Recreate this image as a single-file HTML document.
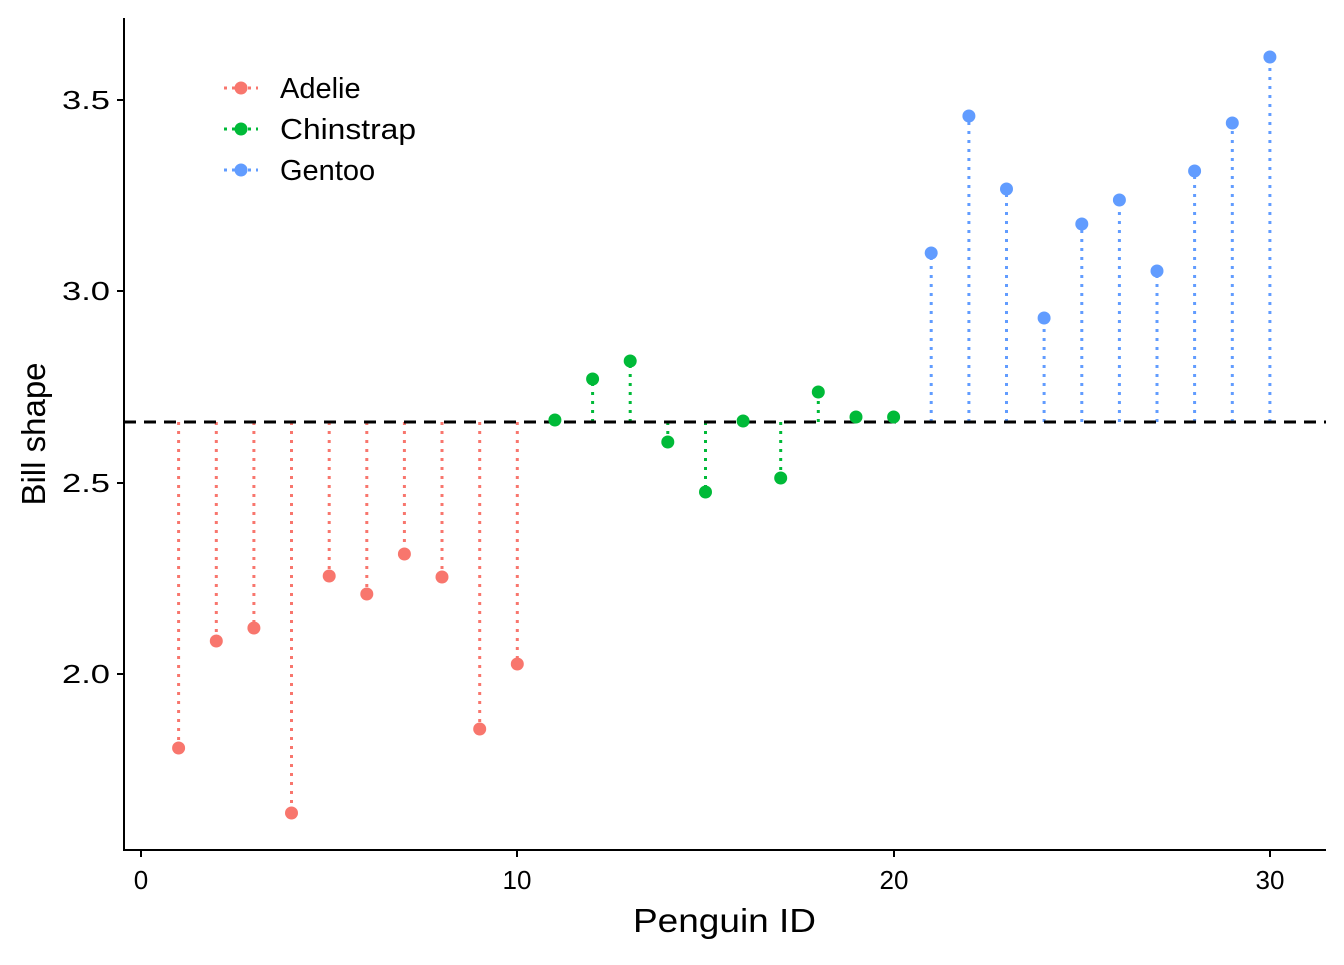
<!DOCTYPE html>
<html><head><meta charset="utf-8"><style>
html,body{margin:0;padding:0;background:#fff}
svg text{font-family:"Liberation Sans",Arial,sans-serif}
</style></head><body>
<svg width="1344" height="960" viewBox="0 0 1344 960" xmlns="http://www.w3.org/2000/svg">
<rect width="1344" height="960" fill="#fff"/>
<g stroke-width="3" stroke-dasharray="3,6" fill="none">
<g stroke="#F8766D">
<line x1="178.6" y1="422" x2="178.6" y2="748"/><line x1="216.3" y1="422" x2="216.3" y2="641"/>
<line x1="253.9" y1="422" x2="253.9" y2="628"/><line x1="291.5" y1="422" x2="291.5" y2="813"/>
<line x1="329.2" y1="422" x2="329.2" y2="576"/><line x1="366.8" y1="422" x2="366.8" y2="594"/>
<line x1="404.4" y1="422" x2="404.4" y2="554"/><line x1="442.0" y1="422" x2="442.0" y2="577"/>
<line x1="479.7" y1="422" x2="479.7" y2="729"/><line x1="517.3" y1="422" x2="517.3" y2="664"/>
</g>
<g stroke="#00BA38">
<line x1="592.6" y1="422" x2="592.6" y2="379"/><line x1="630.2" y1="422" x2="630.2" y2="361"/>
<line x1="667.8" y1="422" x2="667.8" y2="442"/><line x1="705.5" y1="422" x2="705.5" y2="492"/>
<line x1="780.7" y1="422" x2="780.7" y2="478"/><line x1="818.3" y1="422" x2="818.3" y2="392"/>
</g>
<g stroke="#619CFF">
<line x1="931.2" y1="422" x2="931.2" y2="253"/><line x1="968.9" y1="422" x2="968.9" y2="116"/>
<line x1="1006.5" y1="422" x2="1006.5" y2="189"/><line x1="1044.1" y1="422" x2="1044.1" y2="318"/>
<line x1="1081.8" y1="422" x2="1081.8" y2="224"/><line x1="1119.4" y1="422" x2="1119.4" y2="200"/>
<line x1="1157.0" y1="422" x2="1157.0" y2="271"/><line x1="1194.6" y1="422" x2="1194.6" y2="171"/>
<line x1="1232.3" y1="422" x2="1232.3" y2="123"/><line x1="1269.9" y1="422" x2="1269.9" y2="57"/>
</g>
</g>
<line x1="124" y1="422" x2="1326" y2="422" stroke="#000" stroke-width="3" stroke-dasharray="12,8"/>
<g fill="#F8766D">
<circle cx="178.6" cy="748" r="6.5"/><circle cx="216.3" cy="641" r="6.5"/><circle cx="253.9" cy="628" r="6.5"/>
<circle cx="291.5" cy="813" r="6.5"/><circle cx="329.2" cy="576" r="6.5"/><circle cx="366.8" cy="594" r="6.5"/>
<circle cx="404.4" cy="554" r="6.5"/><circle cx="442.0" cy="577" r="6.5"/><circle cx="479.7" cy="729" r="6.5"/>
<circle cx="517.3" cy="664" r="6.5"/>
</g>
<g fill="#00BA38">
<circle cx="554.9" cy="420" r="6.5"/><circle cx="592.6" cy="379" r="6.5"/><circle cx="630.2" cy="361" r="6.5"/>
<circle cx="667.8" cy="442" r="6.5"/><circle cx="705.5" cy="492" r="6.5"/><circle cx="743.1" cy="421" r="6.5"/>
<circle cx="780.7" cy="478" r="6.5"/><circle cx="818.3" cy="392" r="6.5"/><circle cx="856.0" cy="417" r="6.5"/>
<circle cx="893.6" cy="417" r="6.5"/>
</g>
<g fill="#619CFF">
<circle cx="931.2" cy="253" r="6.5"/><circle cx="968.9" cy="116" r="6.5"/><circle cx="1006.5" cy="189" r="6.5"/>
<circle cx="1044.1" cy="318" r="6.5"/><circle cx="1081.8" cy="224" r="6.5"/><circle cx="1119.4" cy="200" r="6.5"/>
<circle cx="1157.0" cy="271" r="6.5"/><circle cx="1194.6" cy="171" r="6.5"/><circle cx="1232.3" cy="123" r="6.5"/>
<circle cx="1269.9" cy="57" r="6.5"/>
</g>
<line x1="124" y1="18" x2="124" y2="851" stroke="#000" stroke-width="2"/>
<line x1="123" y1="850" x2="1326" y2="850" stroke="#000" stroke-width="2"/>
<g stroke="#000" stroke-width="2">
<line x1="117" y1="100" x2="124" y2="100"/><line x1="117" y1="291" x2="124" y2="291"/>
<line x1="117" y1="483" x2="124" y2="483"/><line x1="117" y1="674" x2="124" y2="674"/>
<line x1="141" y1="850" x2="141" y2="857"/><line x1="517" y1="850" x2="517" y2="857"/>
<line x1="894" y1="850" x2="894" y2="857"/><line x1="1270" y1="850" x2="1270" y2="857"/>
</g>
<g font-size="26" fill="#000">
<text x="62" y="109" textLength="48" lengthAdjust="spacingAndGlyphs">3.5</text>
<text x="62" y="300" textLength="48" lengthAdjust="spacingAndGlyphs">3.0</text>
<text x="62" y="492" textLength="48" lengthAdjust="spacingAndGlyphs">2.5</text>
<text x="62" y="683" textLength="48" lengthAdjust="spacingAndGlyphs">2.0</text>
</g>
<g font-size="26" fill="#000" text-anchor="middle">
<text x="141" y="889">0</text><text x="517" y="889">10</text>
<text x="894" y="889">20</text><text x="1270" y="889">30</text>
</g>
<text x="633" y="932" font-size="33" textLength="183" lengthAdjust="spacingAndGlyphs">Penguin ID</text>
<text transform="translate(45,434) rotate(-90)" font-size="33" text-anchor="middle">Bill shape</text>
<g font-size="29">
<line x1="224" y1="88" x2="258" y2="88" stroke="#F8766D" stroke-width="3" stroke-dasharray="3,5"/><circle cx="241" cy="88" r="6.5" fill="#F8766D"/><text x="280" y="98">Adelie</text>
<line x1="224" y1="129" x2="258" y2="129" stroke="#00BA38" stroke-width="3" stroke-dasharray="3,5"/><circle cx="241" cy="129" r="6.5" fill="#00BA38"/><text x="280" y="139" textLength="136" lengthAdjust="spacingAndGlyphs">Chinstrap</text>
<line x1="224" y1="170" x2="258" y2="170" stroke="#619CFF" stroke-width="3" stroke-dasharray="3,5"/><circle cx="241" cy="170" r="6.5" fill="#619CFF"/><text x="280" y="180">Gentoo</text>
</g>
</svg>
</body></html>
